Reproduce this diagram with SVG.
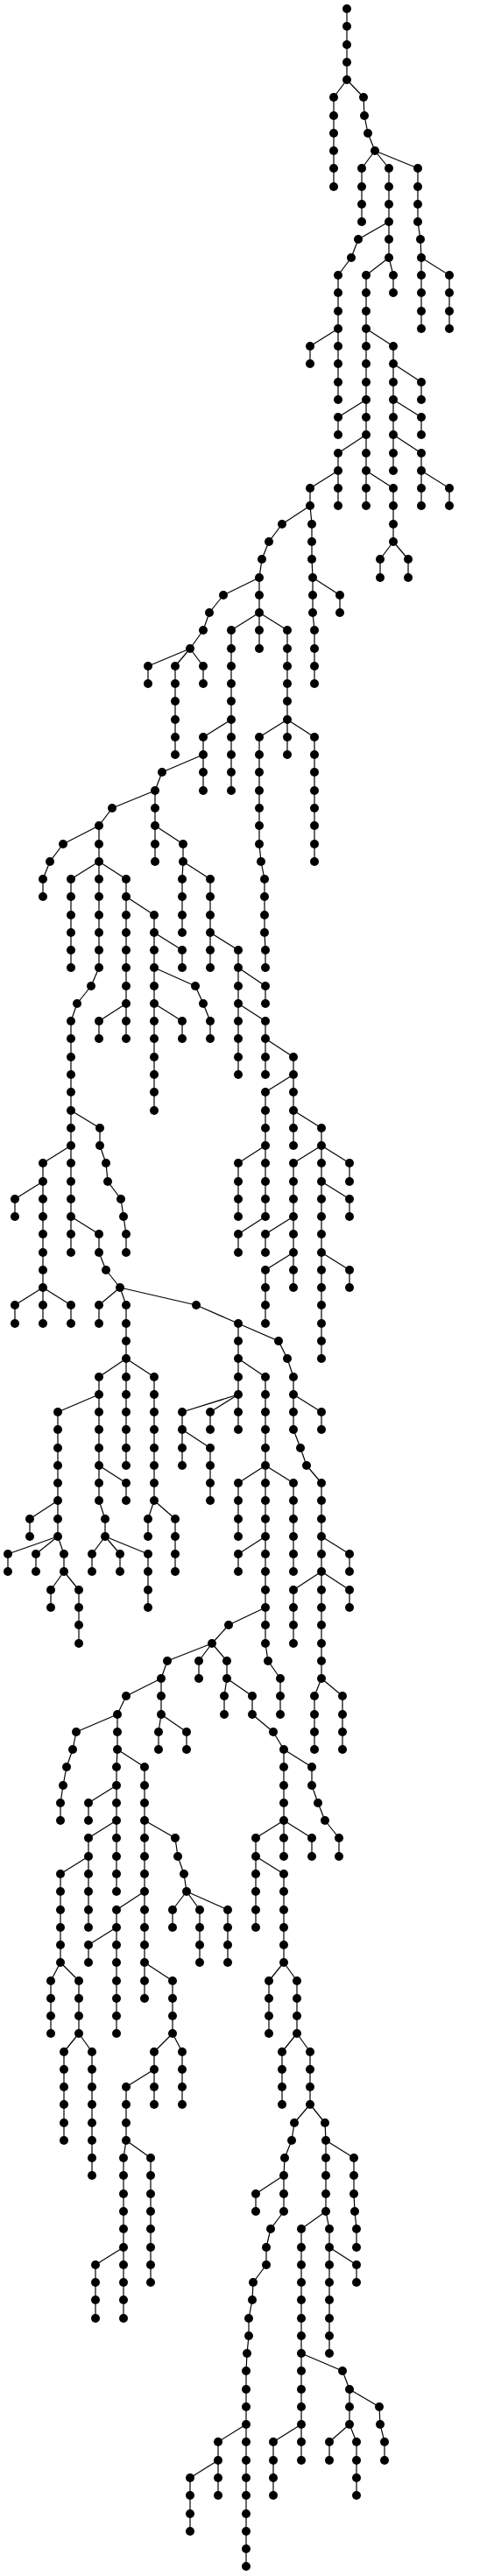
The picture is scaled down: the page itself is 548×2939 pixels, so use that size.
<svg xmlns="http://www.w3.org/2000/svg" width="548" height="2939" viewBox="0 0 548 2939">
<style>#edges path{fill:none;stroke:#000;stroke-width:1.2}#nodes circle{r:5px;fill:#000}</style>
<rect width="548" height="2939" fill="#fff"/>
<g id="edges">
<path d="M396 10V30"/><path d="M396 30V51"/><path d="M396 51V71"/><path d="M396 71V91"/>
<path d="M396 91L381 111"/><path d="M396 91L415 111"/>
<path d="M381 111V132"/><path d="M415 111L416 132"/>
<path d="M381 132V152"/><path d="M416 132L420 152"/>
<path d="M381 152V172"/><path d="M420 152L428 172"/>
<path d="M381 172V192"/><path d="M428 172L413 192"/><path d="M428 172L444 192"/><path d="M428 172L477 192"/>
<path d="M381 192V213"/><path d="M413 192V213"/><path d="M444 192V213"/><path d="M477 192V213"/>
<path d="M413 213V233"/><path d="M444 213V233"/><path d="M477 213V233"/>
<path d="M413 233V253"/><path d="M444 233V253"/><path d="M477 233V253"/>
<path d="M444 253L409 273"/><path d="M444 253V273"/><path d="M477 253L480 273"/>
<path d="M409 273L401 294"/><path d="M444 273V294"/><path d="M480 273L481 294"/>
<path d="M401 294L386 314"/><path d="M444 294L418 314"/><path d="M444 294L449 314"/><path d="M481 294V314"/><path d="M481 294L513 314"/>
<path d="M386 314V334"/><path d="M418 314V334"/><path d="M449 314V334"/><path d="M481 314V334"/><path d="M513 314V334"/>
<path d="M386 334V355"/><path d="M418 334V355"/><path d="M481 334V355"/><path d="M513 334V355"/>
<path d="M386 355V375"/><path d="M418 355V375"/><path d="M481 355V375"/><path d="M513 355V375"/>
<path d="M386 375L354 395"/><path d="M386 375V395"/><path d="M418 375V395"/><path d="M418 375L449 395"/>
<path d="M354 395V415"/><path d="M386 395V415"/><path d="M418 395V415"/><path d="M449 395V415"/>
<path d="M386 415V436"/><path d="M418 415V436"/><path d="M449 415V436"/><path d="M449 415L481 436"/>
<path d="M386 436V456"/><path d="M418 436V456"/><path d="M449 436V456"/><path d="M481 436V456"/>
<path d="M418 456L386 476"/><path d="M418 456V476"/><path d="M449 456V476"/><path d="M449 456L481 476"/>
<path d="M386 476V496"/><path d="M418 476V496"/><path d="M449 476V496"/><path d="M481 476V496"/>
<path d="M418 496L386 517"/><path d="M418 496V517"/><path d="M449 496V517"/><path d="M449 496L481 517"/>
<path d="M386 517V537"/><path d="M418 517V537"/><path d="M449 517V537"/><path d="M481 517V537"/>
<path d="M386 537L354 557"/><path d="M386 537V557"/><path d="M418 537V557"/><path d="M418 537L449 557"/><path d="M481 537V557"/><path d="M481 537L513 557"/>
<path d="M354 557V577"/><path d="M386 557V577"/><path d="M418 557V577"/><path d="M449 557V577"/><path d="M481 557V577"/><path d="M513 557V577"/>
<path d="M354 577L322 598"/><path d="M354 577L356 598"/><path d="M449 577V598"/>
<path d="M322 598L307 618"/><path d="M356 598V618"/><path d="M449 598V618"/>
<path d="M307 618L299 638"/><path d="M356 618V638"/><path d="M449 618L434 638"/><path d="M449 618L466 638"/>
<path d="M299 638L296 659"/><path d="M356 638L357 659"/><path d="M434 638V659"/><path d="M466 638V659"/>
<path d="M296 659L255 679"/><path d="M296 659V679"/><path d="M357 659V679"/><path d="M357 659L388 679"/>
<path d="M255 679L239 699"/><path d="M296 679V699"/><path d="M357 679V699"/><path d="M388 679V699"/>
<path d="M239 699L232 719"/><path d="M296 699L264 719"/><path d="M296 699V719"/><path d="M296 699L328 719"/><path d="M357 699L359 719"/>
<path d="M232 719L217 740"/><path d="M264 719V740"/><path d="M296 719V740"/><path d="M328 719V740"/><path d="M359 719V740"/>
<path d="M217 740L169 760"/><path d="M217 740L200 760"/><path d="M217 740L232 760"/><path d="M264 740V760"/><path d="M328 740V760"/><path d="M359 740V760"/>
<path d="M169 760V780"/><path d="M200 760V780"/><path d="M232 760V780"/><path d="M264 760V780"/><path d="M328 760V780"/><path d="M359 760V780"/>
<path d="M200 780V800"/><path d="M264 780V800"/><path d="M328 780V800"/>
<path d="M200 800V821"/><path d="M264 800V821"/><path d="M328 800V821"/>
<path d="M200 821V841"/><path d="M264 821L232 841"/><path d="M264 821V841"/><path d="M328 821L296 841"/><path d="M328 821V841"/><path d="M328 821L359 841"/>
<path d="M200 841V861"/><path d="M232 841V861"/><path d="M264 841V861"/><path d="M296 841V861"/><path d="M328 841V861"/><path d="M359 841V861"/>
<path d="M232 861L185 881"/><path d="M232 861V881"/><path d="M264 861V881"/><path d="M296 861V881"/><path d="M359 861V881"/>
<path d="M185 881L177 902"/><path d="M232 881V902"/><path d="M264 881V902"/><path d="M296 881V902"/><path d="M359 881V902"/>
<path d="M177 902L128 922"/><path d="M177 902V922"/><path d="M296 902V922"/><path d="M359 902V922"/>
<path d="M128 922L113 942"/><path d="M177 922V942"/><path d="M296 922V942"/><path d="M359 922V942"/>
<path d="M113 942L72 963"/><path d="M113 942V963"/><path d="M177 942V963"/><path d="M177 942L209 963"/><path d="M296 942V963"/><path d="M359 942V963"/>
<path d="M72 963L57 983"/><path d="M113 963V983"/><path d="M177 963V983"/><path d="M209 963V983"/><path d="M296 963L298 983"/><path d="M359 963V983"/>
<path d="M57 983L49 1003"/><path d="M113 983L81 1003"/><path d="M113 983V1003"/><path d="M113 983L144 1003"/><path d="M209 983L208 1003"/><path d="M209 983L240 1003"/><path d="M298 983L302 1003"/>
<path d="M49 1003V1023"/><path d="M81 1003V1023"/><path d="M113 1003V1023"/><path d="M144 1003V1023"/><path d="M208 1003V1023"/><path d="M240 1003V1023"/><path d="M302 1003V1023"/>
<path d="M81 1023V1044"/><path d="M113 1023V1044"/><path d="M144 1023V1044"/><path d="M144 1023L176 1044"/><path d="M208 1023V1044"/><path d="M240 1023V1044"/><path d="M302 1023V1044"/>
<path d="M81 1044V1064"/><path d="M113 1044V1064"/><path d="M144 1044V1064"/><path d="M176 1044V1064"/><path d="M208 1044V1064"/><path d="M240 1044V1064"/><path d="M302 1044V1064"/>
<path d="M81 1064V1084"/><path d="M113 1064V1084"/><path d="M144 1064V1084"/><path d="M176 1064V1084"/><path d="M176 1064L208 1084"/><path d="M240 1064V1084"/><path d="M240 1064L272 1084"/><path d="M302 1064L303 1084"/>
<path d="M81 1084V1104"/><path d="M113 1084V1104"/><path d="M144 1084V1104"/><path d="M176 1084V1104"/><path d="M208 1084V1104"/><path d="M240 1084V1104"/><path d="M272 1084V1104"/><path d="M303 1084V1104"/>
<path d="M113 1104L104 1125"/><path d="M144 1104V1125"/><path d="M176 1104V1125"/><path d="M176 1104L223 1125"/><path d="M272 1104V1125"/><path d="M272 1104L303 1125"/>
<path d="M104 1125L88 1145"/><path d="M144 1125V1145"/><path d="M176 1125V1145"/><path d="M223 1125L232 1145"/><path d="M272 1125V1145"/><path d="M303 1125V1145"/>
<path d="M88 1145L81 1165"/><path d="M144 1145L113 1165"/><path d="M144 1145V1165"/><path d="M176 1145V1165"/><path d="M176 1145L208 1165"/><path d="M232 1145L240 1165"/><path d="M272 1145V1165"/><path d="M272 1145L303 1165"/>
<path d="M81 1165V1185"/><path d="M113 1165V1185"/><path d="M144 1165V1185"/><path d="M176 1165V1185"/><path d="M208 1165V1185"/><path d="M240 1165V1185"/><path d="M272 1165V1185"/><path d="M303 1165V1185"/>
<path d="M81 1185V1206"/><path d="M176 1185V1206"/><path d="M272 1185V1206"/><path d="M303 1185V1206"/><path d="M303 1185L335 1206"/>
<path d="M81 1206V1226"/><path d="M176 1206V1226"/><path d="M272 1206V1226"/><path d="M303 1206V1226"/><path d="M335 1206V1226"/>
<path d="M81 1226V1246"/><path d="M176 1226V1246"/><path d="M335 1226L303 1246"/><path d="M335 1226V1246"/>
<path d="M81 1246V1267"/><path d="M176 1246V1267"/><path d="M303 1246V1267"/><path d="M335 1246V1267"/>
<path d="M81 1267V1287"/><path d="M81 1267L114 1287"/><path d="M303 1267V1287"/><path d="M335 1267V1287"/><path d="M335 1267L367 1287"/>
<path d="M81 1287V1307"/><path d="M114 1287V1307"/><path d="M303 1287V1307"/><path d="M335 1287V1307"/><path d="M367 1287V1307"/>
<path d="M81 1307L49 1327"/><path d="M81 1307V1327"/><path d="M114 1307L121 1327"/><path d="M303 1307L272 1327"/><path d="M303 1307V1327"/><path d="M367 1307L335 1327"/><path d="M367 1307V1327"/><path d="M367 1307L399 1327"/>
<path d="M49 1327V1348"/><path d="M81 1327V1348"/><path d="M121 1327L123 1348"/><path d="M272 1327V1348"/><path d="M303 1327V1348"/><path d="M335 1327V1348"/><path d="M367 1327V1348"/><path d="M399 1327V1348"/>
<path d="M49 1348L17 1368"/><path d="M49 1348V1368"/><path d="M81 1348V1368"/><path d="M123 1348L138 1368"/><path d="M272 1348V1368"/><path d="M303 1348V1368"/><path d="M335 1348V1368"/><path d="M367 1348V1368"/><path d="M367 1348L399 1368"/>
<path d="M17 1368V1388"/><path d="M49 1368V1388"/><path d="M81 1368V1388"/><path d="M138 1368L141 1388"/><path d="M272 1368V1388"/><path d="M303 1368V1388"/><path d="M335 1368V1388"/><path d="M367 1368V1388"/><path d="M399 1368V1388"/>
<path d="M49 1388V1408"/><path d="M81 1388V1408"/><path d="M81 1388L113 1408"/><path d="M141 1388L144 1408"/><path d="M303 1388L272 1408"/><path d="M335 1388L303 1408"/><path d="M335 1388V1408"/><path d="M367 1388V1408"/>
<path d="M49 1408V1429"/><path d="M81 1408V1429"/><path d="M113 1408V1429"/><path d="M144 1408V1429"/><path d="M272 1408V1429"/><path d="M303 1408V1429"/><path d="M335 1408V1429"/><path d="M367 1408V1429"/>
<path d="M49 1429V1449"/><path d="M113 1429L121 1449"/><path d="M335 1429L303 1449"/><path d="M335 1429V1449"/><path d="M367 1429V1449"/><path d="M367 1429L399 1449"/>
<path d="M49 1449V1469"/><path d="M121 1449L137 1469"/><path d="M303 1449V1469"/><path d="M335 1449V1469"/><path d="M367 1449V1469"/><path d="M399 1449V1469"/>
<path d="M49 1469L17 1489"/><path d="M49 1469V1489"/><path d="M49 1469L81 1489"/><path d="M137 1469L113 1489"/><path d="M137 1469L144 1489"/><path d="M137 1469L224 1489"/><path d="M303 1469V1489"/><path d="M367 1469V1489"/>
<path d="M17 1489V1510"/><path d="M49 1489V1510"/><path d="M81 1489V1510"/><path d="M113 1489V1510"/><path d="M144 1489V1510"/><path d="M224 1489L272 1510"/><path d="M303 1489V1510"/><path d="M367 1489V1510"/>
<path d="M144 1510V1530"/><path d="M272 1510V1530"/><path d="M272 1510L318 1530"/><path d="M367 1510V1530"/>
<path d="M144 1530V1550"/><path d="M272 1530V1550"/><path d="M318 1530L328 1550"/><path d="M367 1530V1550"/>
<path d="M144 1550L113 1571"/><path d="M144 1550V1571"/><path d="M144 1550L176 1571"/><path d="M272 1550V1571"/><path d="M272 1550L303 1571"/><path d="M328 1550L335 1571"/>
<path d="M113 1571V1591"/><path d="M144 1571V1591"/><path d="M176 1571V1591"/><path d="M272 1571V1591"/><path d="M303 1571V1591"/><path d="M335 1571V1591"/>
<path d="M113 1591L66 1611"/><path d="M113 1591V1611"/><path d="M144 1591V1611"/><path d="M176 1591V1611"/><path d="M272 1591L208 1611"/><path d="M272 1591L240 1611"/><path d="M272 1591V1611"/><path d="M303 1591V1611"/><path d="M335 1591V1611"/><path d="M335 1591L367 1611"/>
<path d="M66 1611V1631"/><path d="M113 1611V1631"/><path d="M144 1611V1631"/><path d="M176 1611V1631"/><path d="M208 1611V1631"/><path d="M240 1611V1631"/><path d="M272 1611V1631"/><path d="M303 1611V1631"/><path d="M335 1611V1631"/><path d="M367 1611V1631"/>
<path d="M66 1631V1652"/><path d="M113 1631V1652"/><path d="M144 1631V1652"/><path d="M176 1631V1652"/><path d="M208 1631V1652"/><path d="M208 1631L240 1652"/><path d="M303 1631V1652"/><path d="M335 1631L343 1652"/>
<path d="M66 1652V1672"/><path d="M113 1652V1672"/><path d="M144 1652V1672"/><path d="M176 1652V1672"/><path d="M208 1652V1672"/><path d="M240 1652V1672"/><path d="M303 1652V1672"/><path d="M343 1652L350 1672"/>
<path d="M66 1672V1692"/><path d="M113 1672V1692"/><path d="M113 1672L144 1692"/><path d="M176 1672V1692"/><path d="M240 1672V1692"/><path d="M303 1672L272 1692"/><path d="M303 1672V1692"/><path d="M303 1672L335 1692"/><path d="M350 1672L367 1692"/>
<path d="M66 1692V1712"/><path d="M113 1692V1712"/><path d="M144 1692V1712"/><path d="M176 1692V1712"/><path d="M240 1692V1712"/><path d="M272 1692V1712"/><path d="M303 1692V1712"/><path d="M335 1692V1712"/><path d="M367 1692V1712"/>
<path d="M66 1712L34 1733"/><path d="M66 1712V1733"/><path d="M113 1712L120 1733"/><path d="M176 1712L169 1733"/><path d="M176 1712L200 1733"/><path d="M272 1712V1733"/><path d="M303 1712V1733"/><path d="M335 1712V1733"/><path d="M367 1712V1733"/>
<path d="M34 1733V1753"/><path d="M66 1733V1753"/><path d="M120 1733V1753"/><path d="M169 1733V1753"/><path d="M200 1733V1753"/><path d="M272 1733V1753"/><path d="M303 1733V1753"/><path d="M335 1733V1753"/><path d="M367 1733V1753"/>
<path d="M66 1753L9 1773"/><path d="M66 1753L41 1773"/><path d="M66 1753L73 1773"/><path d="M120 1753L105 1773"/><path d="M120 1753L137 1773"/><path d="M120 1753L169 1773"/><path d="M200 1753V1773"/><path d="M303 1753L272 1773"/><path d="M303 1753V1773"/><path d="M335 1753V1773"/><path d="M367 1753V1773"/><path d="M367 1753L399 1773"/>
<path d="M9 1773V1793"/><path d="M41 1773V1793"/><path d="M73 1773V1793"/><path d="M105 1773V1793"/><path d="M137 1773V1793"/><path d="M169 1773V1793"/><path d="M200 1773V1793"/><path d="M272 1773V1793"/><path d="M303 1773V1793"/><path d="M335 1773V1793"/><path d="M367 1773V1793"/><path d="M399 1773V1793"/>
<path d="M73 1793L58 1814"/><path d="M73 1793L90 1814"/><path d="M169 1793V1814"/><path d="M303 1793V1814"/><path d="M367 1793L335 1814"/><path d="M367 1793V1814"/><path d="M367 1793L399 1814"/>
<path d="M58 1814V1834"/><path d="M90 1814V1834"/><path d="M169 1814V1834"/><path d="M303 1814V1834"/><path d="M335 1814V1834"/><path d="M367 1814V1834"/><path d="M399 1814V1834"/>
<path d="M90 1834V1854"/><path d="M303 1834L261 1854"/><path d="M303 1834V1854"/><path d="M335 1834V1854"/><path d="M367 1834V1854"/>
<path d="M90 1854V1875"/><path d="M261 1854L242 1875"/><path d="M303 1854V1875"/><path d="M335 1854V1875"/><path d="M367 1854V1875"/>
<path d="M242 1875L191 1895"/><path d="M242 1875L227 1895"/><path d="M242 1875L259 1895"/><path d="M303 1875L306 1895"/><path d="M367 1875V1895"/>
<path d="M191 1895L184 1915"/><path d="M227 1895V1915"/><path d="M259 1895V1915"/><path d="M306 1895L320 1915"/><path d="M367 1895V1915"/>
<path d="M184 1915L144 1935"/><path d="M184 1915V1935"/><path d="M259 1915L256 1935"/><path d="M259 1915L288 1935"/><path d="M320 1915V1935"/><path d="M367 1915L359 1935"/><path d="M367 1915L391 1935"/>
<path d="M144 1935L134 1956"/><path d="M184 1935V1956"/><path d="M256 1935V1956"/><path d="M288 1935V1956"/><path d="M320 1935V1956"/><path d="M359 1935V1956"/><path d="M391 1935V1956"/>
<path d="M134 1956L87 1976"/><path d="M134 1956V1976"/><path d="M184 1956L181 1976"/><path d="M184 1956L213 1976"/><path d="M288 1956L312 1976"/><path d="M359 1956V1976"/><path d="M391 1956V1976"/>
<path d="M87 1976L83 1996"/><path d="M134 1976V1996"/><path d="M181 1976V1996"/><path d="M213 1976V1996"/><path d="M312 1976L324 1996"/><path d="M359 1976V1996"/><path d="M391 1976V1996"/>
<path d="M83 1996L76 2016"/><path d="M134 1996L133 2016"/><path d="M134 1996L165 2016"/><path d="M324 1996V2016"/><path d="M324 1996L356 2016"/>
<path d="M76 2016L72 2037"/><path d="M133 2016V2037"/><path d="M165 2016V2037"/><path d="M324 2016V2037"/><path d="M356 2016V2037"/>
<path d="M72 2037L69 2057"/><path d="M133 2037L101 2057"/><path d="M133 2037V2057"/><path d="M165 2037V2057"/><path d="M324 2037V2057"/><path d="M356 2037L363 2057"/>
<path d="M69 2057V2077"/><path d="M101 2057V2077"/><path d="M133 2057V2077"/><path d="M165 2057V2077"/><path d="M324 2057V2077"/><path d="M363 2057L371 2077"/>
<path d="M133 2077L101 2097"/><path d="M133 2077V2097"/><path d="M165 2077V2097"/><path d="M165 2077L200 2097"/><path d="M324 2077L292 2097"/><path d="M324 2077V2097"/><path d="M324 2077L356 2097"/><path d="M371 2077L387 2097"/>
<path d="M101 2097V2118"/><path d="M133 2097V2118"/><path d="M165 2097V2118"/><path d="M200 2097L203 2118"/><path d="M292 2097V2118"/><path d="M324 2097V2118"/><path d="M356 2097V2118"/><path d="M387 2097V2118"/>
<path d="M101 2118L69 2138"/><path d="M101 2118V2138"/><path d="M133 2118V2138"/><path d="M165 2118V2138"/><path d="M203 2118L210 2138"/><path d="M292 2118V2138"/><path d="M292 2118L324 2138"/>
<path d="M69 2138V2158"/><path d="M101 2138V2158"/><path d="M133 2138V2158"/><path d="M165 2138V2158"/><path d="M210 2138L213 2158"/><path d="M292 2138V2158"/><path d="M324 2138V2158"/>
<path d="M69 2158V2179"/><path d="M101 2158V2179"/><path d="M165 2158L133 2179"/><path d="M165 2158V2179"/><path d="M213 2158L197 2179"/><path d="M213 2158L228 2179"/><path d="M213 2158L260 2179"/><path d="M292 2158V2179"/><path d="M324 2158V2179"/>
<path d="M69 2179V2199"/><path d="M101 2179V2199"/><path d="M133 2179V2199"/><path d="M165 2179V2199"/><path d="M197 2179V2199"/><path d="M228 2179V2199"/><path d="M260 2179V2199"/><path d="M292 2179V2199"/><path d="M324 2179V2199"/>
<path d="M69 2199V2219"/><path d="M133 2199L101 2219"/><path d="M133 2199V2219"/><path d="M165 2199V2219"/><path d="M228 2199V2219"/><path d="M260 2199V2219"/><path d="M324 2199V2219"/>
<path d="M69 2219V2239"/><path d="M101 2219V2239"/><path d="M133 2219V2239"/><path d="M165 2219V2239"/><path d="M228 2219V2239"/><path d="M260 2219V2239"/><path d="M324 2219V2239"/>
<path d="M69 2239L58 2260"/><path d="M69 2239L90 2260"/><path d="M133 2239V2260"/><path d="M165 2239V2260"/><path d="M165 2239L197 2260"/><path d="M324 2239L307 2260"/><path d="M324 2239L339 2260"/>
<path d="M58 2260V2280"/><path d="M90 2260V2280"/><path d="M133 2260V2280"/><path d="M165 2260V2280"/><path d="M197 2260V2280"/><path d="M307 2260V2280"/><path d="M339 2260V2280"/>
<path d="M58 2280V2300"/><path d="M90 2280V2300"/><path d="M133 2280V2300"/><path d="M197 2280V2300"/><path d="M307 2280V2300"/><path d="M339 2280V2300"/>
<path d="M58 2300V2320"/><path d="M90 2300V2320"/><path d="M133 2300V2320"/><path d="M197 2300V2320"/><path d="M307 2300V2320"/><path d="M339 2300V2320"/>
<path d="M90 2320L73 2341"/><path d="M90 2320L105 2341"/><path d="M197 2320L176 2341"/><path d="M197 2320L208 2341"/><path d="M339 2320L322 2341"/><path d="M339 2320L354 2341"/>
<path d="M73 2341V2361"/><path d="M105 2341V2361"/><path d="M176 2341V2361"/><path d="M208 2341V2361"/><path d="M322 2341V2361"/><path d="M354 2341V2361"/>
<path d="M73 2361V2381"/><path d="M105 2361V2381"/><path d="M176 2361L144 2381"/><path d="M176 2361V2381"/><path d="M208 2361V2381"/><path d="M322 2361V2381"/><path d="M354 2361V2381"/>
<path d="M73 2381V2401"/><path d="M105 2381V2401"/><path d="M144 2381V2401"/><path d="M176 2381V2401"/><path d="M208 2381V2401"/><path d="M322 2381V2401"/><path d="M354 2381V2401"/>
<path d="M73 2401V2422"/><path d="M105 2401V2422"/><path d="M144 2401V2422"/><path d="M354 2401L336 2422"/><path d="M354 2401L371 2422"/>
<path d="M73 2422V2442"/><path d="M105 2422V2442"/><path d="M144 2422V2442"/><path d="M336 2422L333 2442"/><path d="M371 2422L372 2442"/>
<path d="M105 2442V2462"/><path d="M144 2442L141 2462"/><path d="M144 2442L172 2462"/><path d="M333 2442L325 2462"/><path d="M372 2442V2462"/><path d="M372 2442L404 2462"/>
<path d="M105 2462V2482"/><path d="M141 2462V2482"/><path d="M172 2462V2482"/><path d="M325 2462L324 2482"/><path d="M372 2462V2482"/><path d="M404 2462V2482"/>
<path d="M141 2482V2503"/><path d="M172 2482V2503"/><path d="M324 2482L292 2503"/><path d="M324 2482V2503"/><path d="M372 2482V2503"/><path d="M404 2482V2503"/>
<path d="M141 2503V2523"/><path d="M172 2503V2523"/><path d="M292 2503V2523"/><path d="M324 2503V2523"/><path d="M372 2503V2523"/><path d="M404 2503L405 2523"/>
<path d="M141 2523V2543"/><path d="M172 2523V2543"/><path d="M324 2523L309 2543"/><path d="M372 2523L344 2543"/><path d="M372 2523L376 2543"/><path d="M405 2523L407 2543"/>
<path d="M141 2543V2564"/><path d="M172 2543V2564"/><path d="M309 2543L304 2564"/><path d="M344 2543V2564"/><path d="M376 2543V2564"/><path d="M407 2543V2564"/>
<path d="M141 2564L109 2584"/><path d="M141 2564V2584"/><path d="M172 2564V2584"/><path d="M304 2564V2584"/><path d="M344 2564V2584"/><path d="M376 2564V2584"/><path d="M376 2564L407 2584"/>
<path d="M109 2584V2604"/><path d="M141 2584V2604"/><path d="M172 2584V2604"/><path d="M304 2584L289 2604"/><path d="M344 2584V2604"/><path d="M376 2584V2604"/><path d="M407 2584V2604"/>
<path d="M109 2604V2624"/><path d="M141 2604V2624"/><path d="M289 2604L288 2624"/><path d="M344 2604V2624"/><path d="M376 2604V2624"/>
<path d="M109 2624V2645"/><path d="M141 2624V2645"/><path d="M288 2624L284 2645"/><path d="M344 2624V2645"/><path d="M376 2624V2645"/>
<path d="M284 2645V2665"/><path d="M344 2645V2665"/><path d="M376 2645V2665"/>
<path d="M284 2665L282 2685"/><path d="M344 2665V2685"/><path d="M376 2665V2685"/>
<path d="M282 2685L281 2705"/><path d="M344 2685V2705"/><path d="M344 2685L391 2705"/>
<path d="M281 2705V2726"/><path d="M344 2705V2726"/><path d="M391 2705L399 2726"/>
<path d="M281 2726V2746"/><path d="M344 2726V2746"/><path d="M399 2726V2746"/><path d="M399 2726L433 2746"/>
<path d="M281 2746V2766"/><path d="M344 2746V2766"/><path d="M399 2746V2766"/><path d="M433 2746L434 2766"/>
<path d="M281 2766L249 2786"/><path d="M281 2766V2786"/><path d="M344 2766L312 2786"/><path d="M344 2766V2786"/><path d="M399 2766L376 2786"/><path d="M399 2766L407 2786"/><path d="M434 2766L439 2786"/>
<path d="M249 2786V2807"/><path d="M281 2786V2807"/><path d="M312 2786V2807"/><path d="M344 2786V2807"/><path d="M376 2786V2807"/><path d="M407 2786V2807"/><path d="M439 2786V2807"/>
<path d="M249 2807L217 2827"/><path d="M249 2807V2827"/><path d="M281 2807V2827"/><path d="M312 2807V2827"/><path d="M407 2807V2827"/>
<path d="M217 2827V2847"/><path d="M249 2827V2847"/><path d="M281 2827V2847"/><path d="M312 2827V2847"/><path d="M407 2827V2847"/>
<path d="M217 2847V2868"/><path d="M281 2847V2868"/>
<path d="M217 2868V2888"/><path d="M281 2868V2888"/>
<path d="M281 2888V2908"/>
<path d="M281 2908V2928"/>
</g>
<g id="nodes">
<g id="n0_396"><circle cx="396" cy="10"/></g>
<g id="n1_396"><circle cx="396" cy="30"/></g>
<g id="n2_396"><circle cx="396" cy="51"/></g>
<g id="n3_396"><circle cx="396" cy="71"/></g>
<g id="n4_396"><circle cx="396" cy="91"/></g>
<g id="n5_381"><circle cx="381" cy="111"/></g><g id="n5_415"><circle cx="415" cy="111"/></g>
<g id="n6_381"><circle cx="381" cy="132"/></g><g id="n6_416"><circle cx="416" cy="132"/></g>
<g id="n7_381"><circle cx="381" cy="152"/></g><g id="n7_420"><circle cx="420" cy="152"/></g>
<g id="n8_381"><circle cx="381" cy="172"/></g><g id="n8_428"><circle cx="428" cy="172"/></g>
<g id="n9_381"><circle cx="381" cy="192"/></g><g id="n9_413"><circle cx="413" cy="192"/></g><g id="n9_444"><circle cx="444" cy="192"/></g><g id="n9_477"><circle cx="477" cy="192"/></g>
<g id="n10_381"><circle cx="381" cy="213"/></g><g id="n10_413"><circle cx="413" cy="213"/></g><g id="n10_444"><circle cx="444" cy="213"/></g><g id="n10_477"><circle cx="477" cy="213"/></g>
<g id="n11_413"><circle cx="413" cy="233"/></g><g id="n11_444"><circle cx="444" cy="233"/></g><g id="n11_477"><circle cx="477" cy="233"/></g>
<g id="n12_413"><circle cx="413" cy="253"/></g><g id="n12_444"><circle cx="444" cy="253"/></g><g id="n12_477"><circle cx="477" cy="253"/></g>
<g id="n13_409"><circle cx="409" cy="273"/></g><g id="n13_444"><circle cx="444" cy="273"/></g><g id="n13_480"><circle cx="480" cy="273"/></g>
<g id="n14_401"><circle cx="401" cy="294"/></g><g id="n14_444"><circle cx="444" cy="294"/></g><g id="n14_481"><circle cx="481" cy="294"/></g>
<g id="n15_386"><circle cx="386" cy="314"/></g><g id="n15_418"><circle cx="418" cy="314"/></g><g id="n15_449"><circle cx="449" cy="314"/></g><g id="n15_481"><circle cx="481" cy="314"/></g><g id="n15_513"><circle cx="513" cy="314"/></g>
<g id="n16_386"><circle cx="386" cy="334"/></g><g id="n16_418"><circle cx="418" cy="334"/></g><g id="n16_449"><circle cx="449" cy="334"/></g><g id="n16_481"><circle cx="481" cy="334"/></g><g id="n16_513"><circle cx="513" cy="334"/></g>
<g id="n17_386"><circle cx="386" cy="355"/></g><g id="n17_418"><circle cx="418" cy="355"/></g><g id="n17_481"><circle cx="481" cy="355"/></g><g id="n17_513"><circle cx="513" cy="355"/></g>
<g id="n18_386"><circle cx="386" cy="375"/></g><g id="n18_418"><circle cx="418" cy="375"/></g><g id="n18_481"><circle cx="481" cy="375"/></g><g id="n18_513"><circle cx="513" cy="375"/></g>
<g id="n19_354"><circle cx="354" cy="395"/></g><g id="n19_386"><circle cx="386" cy="395"/></g><g id="n19_418"><circle cx="418" cy="395"/></g><g id="n19_449"><circle cx="449" cy="395"/></g>
<g id="n20_354"><circle cx="354" cy="415"/></g><g id="n20_386"><circle cx="386" cy="415"/></g><g id="n20_418"><circle cx="418" cy="415"/></g><g id="n20_449"><circle cx="449" cy="415"/></g>
<g id="n21_386"><circle cx="386" cy="436"/></g><g id="n21_418"><circle cx="418" cy="436"/></g><g id="n21_449"><circle cx="449" cy="436"/></g><g id="n21_481"><circle cx="481" cy="436"/></g>
<g id="n22_386"><circle cx="386" cy="456"/></g><g id="n22_418"><circle cx="418" cy="456"/></g><g id="n22_449"><circle cx="449" cy="456"/></g><g id="n22_481"><circle cx="481" cy="456"/></g>
<g id="n23_386"><circle cx="386" cy="476"/></g><g id="n23_418"><circle cx="418" cy="476"/></g><g id="n23_449"><circle cx="449" cy="476"/></g><g id="n23_481"><circle cx="481" cy="476"/></g>
<g id="n24_386"><circle cx="386" cy="496"/></g><g id="n24_418"><circle cx="418" cy="496"/></g><g id="n24_449"><circle cx="449" cy="496"/></g><g id="n24_481"><circle cx="481" cy="496"/></g>
<g id="n25_386"><circle cx="386" cy="517"/></g><g id="n25_418"><circle cx="418" cy="517"/></g><g id="n25_449"><circle cx="449" cy="517"/></g><g id="n25_481"><circle cx="481" cy="517"/></g>
<g id="n26_386"><circle cx="386" cy="537"/></g><g id="n26_418"><circle cx="418" cy="537"/></g><g id="n26_449"><circle cx="449" cy="537"/></g><g id="n26_481"><circle cx="481" cy="537"/></g>
<g id="n27_354"><circle cx="354" cy="557"/></g><g id="n27_386"><circle cx="386" cy="557"/></g><g id="n27_418"><circle cx="418" cy="557"/></g><g id="n27_449"><circle cx="449" cy="557"/></g><g id="n27_481"><circle cx="481" cy="557"/></g><g id="n27_513"><circle cx="513" cy="557"/></g>
<g id="n28_354"><circle cx="354" cy="577"/></g><g id="n28_386"><circle cx="386" cy="577"/></g><g id="n28_418"><circle cx="418" cy="577"/></g><g id="n28_449"><circle cx="449" cy="577"/></g><g id="n28_481"><circle cx="481" cy="577"/></g><g id="n28_513"><circle cx="513" cy="577"/></g>
<g id="n29_322"><circle cx="322" cy="598"/></g><g id="n29_356"><circle cx="356" cy="598"/></g><g id="n29_449"><circle cx="449" cy="598"/></g>
<g id="n30_307"><circle cx="307" cy="618"/></g><g id="n30_356"><circle cx="356" cy="618"/></g><g id="n30_449"><circle cx="449" cy="618"/></g>
<g id="n31_299"><circle cx="299" cy="638"/></g><g id="n31_356"><circle cx="356" cy="638"/></g><g id="n31_434"><circle cx="434" cy="638"/></g><g id="n31_466"><circle cx="466" cy="638"/></g>
<g id="n32_296"><circle cx="296" cy="659"/></g><g id="n32_357"><circle cx="357" cy="659"/></g><g id="n32_434"><circle cx="434" cy="659"/></g><g id="n32_466"><circle cx="466" cy="659"/></g>
<g id="n33_255"><circle cx="255" cy="679"/></g><g id="n33_296"><circle cx="296" cy="679"/></g><g id="n33_357"><circle cx="357" cy="679"/></g><g id="n33_388"><circle cx="388" cy="679"/></g>
<g id="n34_239"><circle cx="239" cy="699"/></g><g id="n34_296"><circle cx="296" cy="699"/></g><g id="n34_357"><circle cx="357" cy="699"/></g><g id="n34_388"><circle cx="388" cy="699"/></g>
<g id="n35_232"><circle cx="232" cy="719"/></g><g id="n35_264"><circle cx="264" cy="719"/></g><g id="n35_296"><circle cx="296" cy="719"/></g><g id="n35_328"><circle cx="328" cy="719"/></g><g id="n35_359"><circle cx="359" cy="719"/></g>
<g id="n36_217"><circle cx="217" cy="740"/></g><g id="n36_264"><circle cx="264" cy="740"/></g><g id="n36_296"><circle cx="296" cy="740"/></g><g id="n36_328"><circle cx="328" cy="740"/></g><g id="n36_359"><circle cx="359" cy="740"/></g>
<g id="n37_169"><circle cx="169" cy="760"/></g><g id="n37_200"><circle cx="200" cy="760"/></g><g id="n37_232"><circle cx="232" cy="760"/></g><g id="n37_264"><circle cx="264" cy="760"/></g><g id="n37_328"><circle cx="328" cy="760"/></g><g id="n37_359"><circle cx="359" cy="760"/></g>
<g id="n38_169"><circle cx="169" cy="780"/></g><g id="n38_200"><circle cx="200" cy="780"/></g><g id="n38_232"><circle cx="232" cy="780"/></g><g id="n38_264"><circle cx="264" cy="780"/></g><g id="n38_328"><circle cx="328" cy="780"/></g><g id="n38_359"><circle cx="359" cy="780"/></g>
<g id="n39_200"><circle cx="200" cy="800"/></g><g id="n39_264"><circle cx="264" cy="800"/></g><g id="n39_328"><circle cx="328" cy="800"/></g>
<g id="n40_200"><circle cx="200" cy="821"/></g><g id="n40_264"><circle cx="264" cy="821"/></g><g id="n40_328"><circle cx="328" cy="821"/></g>
<g id="n41_200"><circle cx="200" cy="841"/></g><g id="n41_232"><circle cx="232" cy="841"/></g><g id="n41_264"><circle cx="264" cy="841"/></g><g id="n41_296"><circle cx="296" cy="841"/></g><g id="n41_328"><circle cx="328" cy="841"/></g><g id="n41_359"><circle cx="359" cy="841"/></g>
<g id="n42_200"><circle cx="200" cy="861"/></g><g id="n42_232"><circle cx="232" cy="861"/></g><g id="n42_264"><circle cx="264" cy="861"/></g><g id="n42_296"><circle cx="296" cy="861"/></g><g id="n42_328"><circle cx="328" cy="861"/></g><g id="n42_359"><circle cx="359" cy="861"/></g>
<g id="n43_185"><circle cx="185" cy="881"/></g><g id="n43_232"><circle cx="232" cy="881"/></g><g id="n43_264"><circle cx="264" cy="881"/></g><g id="n43_296"><circle cx="296" cy="881"/></g><g id="n43_359"><circle cx="359" cy="881"/></g>
<g id="n44_177"><circle cx="177" cy="902"/></g><g id="n44_232"><circle cx="232" cy="902"/></g><g id="n44_264"><circle cx="264" cy="902"/></g><g id="n44_296"><circle cx="296" cy="902"/></g><g id="n44_359"><circle cx="359" cy="902"/></g>
<g id="n45_128"><circle cx="128" cy="922"/></g><g id="n45_177"><circle cx="177" cy="922"/></g><g id="n45_296"><circle cx="296" cy="922"/></g><g id="n45_359"><circle cx="359" cy="922"/></g>
<g id="n46_113"><circle cx="113" cy="942"/></g><g id="n46_177"><circle cx="177" cy="942"/></g><g id="n46_296"><circle cx="296" cy="942"/></g><g id="n46_359"><circle cx="359" cy="942"/></g>
<g id="n47_72"><circle cx="72" cy="963"/></g><g id="n47_113"><circle cx="113" cy="963"/></g><g id="n47_177"><circle cx="177" cy="963"/></g><g id="n47_209"><circle cx="209" cy="963"/></g><g id="n47_296"><circle cx="296" cy="963"/></g><g id="n47_359"><circle cx="359" cy="963"/></g>
<g id="n48_57"><circle cx="57" cy="983"/></g><g id="n48_113"><circle cx="113" cy="983"/></g><g id="n48_177"><circle cx="177" cy="983"/></g><g id="n48_209"><circle cx="209" cy="983"/></g><g id="n48_298"><circle cx="298" cy="983"/></g><g id="n48_359"><circle cx="359" cy="983"/></g>
<g id="n49_49"><circle cx="49" cy="1003"/></g><g id="n49_81"><circle cx="81" cy="1003"/></g><g id="n49_113"><circle cx="113" cy="1003"/></g><g id="n49_144"><circle cx="144" cy="1003"/></g><g id="n49_208"><circle cx="208" cy="1003"/></g><g id="n49_240"><circle cx="240" cy="1003"/></g><g id="n49_302"><circle cx="302" cy="1003"/></g>
<g id="n50_49"><circle cx="49" cy="1023"/></g><g id="n50_81"><circle cx="81" cy="1023"/></g><g id="n50_113"><circle cx="113" cy="1023"/></g><g id="n50_144"><circle cx="144" cy="1023"/></g><g id="n50_208"><circle cx="208" cy="1023"/></g><g id="n50_240"><circle cx="240" cy="1023"/></g><g id="n50_302"><circle cx="302" cy="1023"/></g>
<g id="n51_81"><circle cx="81" cy="1044"/></g><g id="n51_113"><circle cx="113" cy="1044"/></g><g id="n51_144"><circle cx="144" cy="1044"/></g><g id="n51_176"><circle cx="176" cy="1044"/></g><g id="n51_208"><circle cx="208" cy="1044"/></g><g id="n51_240"><circle cx="240" cy="1044"/></g><g id="n51_302"><circle cx="302" cy="1044"/></g>
<g id="n52_81"><circle cx="81" cy="1064"/></g><g id="n52_113"><circle cx="113" cy="1064"/></g><g id="n52_144"><circle cx="144" cy="1064"/></g><g id="n52_176"><circle cx="176" cy="1064"/></g><g id="n52_208"><circle cx="208" cy="1064"/></g><g id="n52_240"><circle cx="240" cy="1064"/></g><g id="n52_302"><circle cx="302" cy="1064"/></g>
<g id="n53_81"><circle cx="81" cy="1084"/></g><g id="n53_113"><circle cx="113" cy="1084"/></g><g id="n53_144"><circle cx="144" cy="1084"/></g><g id="n53_176"><circle cx="176" cy="1084"/></g><g id="n53_208"><circle cx="208" cy="1084"/></g><g id="n53_240"><circle cx="240" cy="1084"/></g><g id="n53_272"><circle cx="272" cy="1084"/></g><g id="n53_303"><circle cx="303" cy="1084"/></g>
<g id="n54_81"><circle cx="81" cy="1104"/></g><g id="n54_113"><circle cx="113" cy="1104"/></g><g id="n54_144"><circle cx="144" cy="1104"/></g><g id="n54_176"><circle cx="176" cy="1104"/></g><g id="n54_208"><circle cx="208" cy="1104"/></g><g id="n54_240"><circle cx="240" cy="1104"/></g><g id="n54_272"><circle cx="272" cy="1104"/></g><g id="n54_303"><circle cx="303" cy="1104"/></g>
<g id="n55_104"><circle cx="104" cy="1125"/></g><g id="n55_144"><circle cx="144" cy="1125"/></g><g id="n55_176"><circle cx="176" cy="1125"/></g><g id="n55_223"><circle cx="223" cy="1125"/></g><g id="n55_272"><circle cx="272" cy="1125"/></g><g id="n55_303"><circle cx="303" cy="1125"/></g>
<g id="n56_88"><circle cx="88" cy="1145"/></g><g id="n56_144"><circle cx="144" cy="1145"/></g><g id="n56_176"><circle cx="176" cy="1145"/></g><g id="n56_232"><circle cx="232" cy="1145"/></g><g id="n56_272"><circle cx="272" cy="1145"/></g><g id="n56_303"><circle cx="303" cy="1145"/></g>
<g id="n57_81"><circle cx="81" cy="1165"/></g><g id="n57_113"><circle cx="113" cy="1165"/></g><g id="n57_144"><circle cx="144" cy="1165"/></g><g id="n57_176"><circle cx="176" cy="1165"/></g><g id="n57_208"><circle cx="208" cy="1165"/></g><g id="n57_240"><circle cx="240" cy="1165"/></g><g id="n57_272"><circle cx="272" cy="1165"/></g><g id="n57_303"><circle cx="303" cy="1165"/></g>
<g id="n58_81"><circle cx="81" cy="1185"/></g><g id="n58_113"><circle cx="113" cy="1185"/></g><g id="n58_144"><circle cx="144" cy="1185"/></g><g id="n58_176"><circle cx="176" cy="1185"/></g><g id="n58_208"><circle cx="208" cy="1185"/></g><g id="n58_240"><circle cx="240" cy="1185"/></g><g id="n58_272"><circle cx="272" cy="1185"/></g><g id="n58_303"><circle cx="303" cy="1185"/></g>
<g id="n59_81"><circle cx="81" cy="1206"/></g><g id="n59_176"><circle cx="176" cy="1206"/></g><g id="n59_272"><circle cx="272" cy="1206"/></g><g id="n59_303"><circle cx="303" cy="1206"/></g><g id="n59_335"><circle cx="335" cy="1206"/></g>
<g id="n60_81"><circle cx="81" cy="1226"/></g><g id="n60_176"><circle cx="176" cy="1226"/></g><g id="n60_272"><circle cx="272" cy="1226"/></g><g id="n60_303"><circle cx="303" cy="1226"/></g><g id="n60_335"><circle cx="335" cy="1226"/></g>
<g id="n61_81"><circle cx="81" cy="1246"/></g><g id="n61_176"><circle cx="176" cy="1246"/></g><g id="n61_303"><circle cx="303" cy="1246"/></g><g id="n61_335"><circle cx="335" cy="1246"/></g>
<g id="n62_81"><circle cx="81" cy="1267"/></g><g id="n62_176"><circle cx="176" cy="1267"/></g><g id="n62_303"><circle cx="303" cy="1267"/></g><g id="n62_335"><circle cx="335" cy="1267"/></g>
<g id="n63_81"><circle cx="81" cy="1287"/></g><g id="n63_114"><circle cx="114" cy="1287"/></g><g id="n63_303"><circle cx="303" cy="1287"/></g><g id="n63_335"><circle cx="335" cy="1287"/></g><g id="n63_367"><circle cx="367" cy="1287"/></g>
<g id="n64_81"><circle cx="81" cy="1307"/></g><g id="n64_114"><circle cx="114" cy="1307"/></g><g id="n64_303"><circle cx="303" cy="1307"/></g><g id="n64_335"><circle cx="335" cy="1307"/></g><g id="n64_367"><circle cx="367" cy="1307"/></g>
<g id="n65_49"><circle cx="49" cy="1327"/></g><g id="n65_81"><circle cx="81" cy="1327"/></g><g id="n65_121"><circle cx="121" cy="1327"/></g><g id="n65_272"><circle cx="272" cy="1327"/></g><g id="n65_303"><circle cx="303" cy="1327"/></g><g id="n65_335"><circle cx="335" cy="1327"/></g><g id="n65_367"><circle cx="367" cy="1327"/></g><g id="n65_399"><circle cx="399" cy="1327"/></g>
<g id="n66_49"><circle cx="49" cy="1348"/></g><g id="n66_81"><circle cx="81" cy="1348"/></g><g id="n66_123"><circle cx="123" cy="1348"/></g><g id="n66_272"><circle cx="272" cy="1348"/></g><g id="n66_303"><circle cx="303" cy="1348"/></g><g id="n66_335"><circle cx="335" cy="1348"/></g><g id="n66_367"><circle cx="367" cy="1348"/></g><g id="n66_399"><circle cx="399" cy="1348"/></g>
<g id="n67_17"><circle cx="17" cy="1368"/></g><g id="n67_49"><circle cx="49" cy="1368"/></g><g id="n67_81"><circle cx="81" cy="1368"/></g><g id="n67_138"><circle cx="138" cy="1368"/></g><g id="n67_272"><circle cx="272" cy="1368"/></g><g id="n67_303"><circle cx="303" cy="1368"/></g><g id="n67_335"><circle cx="335" cy="1368"/></g><g id="n67_367"><circle cx="367" cy="1368"/></g><g id="n67_399"><circle cx="399" cy="1368"/></g>
<g id="n68_17"><circle cx="17" cy="1388"/></g><g id="n68_49"><circle cx="49" cy="1388"/></g><g id="n68_81"><circle cx="81" cy="1388"/></g><g id="n68_141"><circle cx="141" cy="1388"/></g><g id="n68_272"><circle cx="272" cy="1388"/></g><g id="n68_303"><circle cx="303" cy="1388"/></g><g id="n68_335"><circle cx="335" cy="1388"/></g><g id="n68_367"><circle cx="367" cy="1388"/></g><g id="n68_399"><circle cx="399" cy="1388"/></g>
<g id="n69_49"><circle cx="49" cy="1408"/></g><g id="n69_81"><circle cx="81" cy="1408"/></g><g id="n69_113"><circle cx="113" cy="1408"/></g><g id="n69_144"><circle cx="144" cy="1408"/></g><g id="n69_272"><circle cx="272" cy="1408"/></g><g id="n69_303"><circle cx="303" cy="1408"/></g><g id="n69_335"><circle cx="335" cy="1408"/></g><g id="n69_367"><circle cx="367" cy="1408"/></g>
<g id="n70_49"><circle cx="49" cy="1429"/></g><g id="n70_81"><circle cx="81" cy="1429"/></g><g id="n70_113"><circle cx="113" cy="1429"/></g><g id="n70_144"><circle cx="144" cy="1429"/></g><g id="n70_272"><circle cx="272" cy="1429"/></g><g id="n70_303"><circle cx="303" cy="1429"/></g><g id="n70_335"><circle cx="335" cy="1429"/></g><g id="n70_367"><circle cx="367" cy="1429"/></g>
<g id="n71_49"><circle cx="49" cy="1449"/></g><g id="n71_121"><circle cx="121" cy="1449"/></g><g id="n71_303"><circle cx="303" cy="1449"/></g><g id="n71_335"><circle cx="335" cy="1449"/></g><g id="n71_367"><circle cx="367" cy="1449"/></g><g id="n71_399"><circle cx="399" cy="1449"/></g>
<g id="n72_49"><circle cx="49" cy="1469"/></g><g id="n72_137"><circle cx="137" cy="1469"/></g><g id="n72_303"><circle cx="303" cy="1469"/></g><g id="n72_335"><circle cx="335" cy="1469"/></g><g id="n72_367"><circle cx="367" cy="1469"/></g><g id="n72_399"><circle cx="399" cy="1469"/></g>
<g id="n73_17"><circle cx="17" cy="1489"/></g><g id="n73_49"><circle cx="49" cy="1489"/></g><g id="n73_81"><circle cx="81" cy="1489"/></g><g id="n73_113"><circle cx="113" cy="1489"/></g><g id="n73_144"><circle cx="144" cy="1489"/></g><g id="n73_224"><circle cx="224" cy="1489"/></g><g id="n73_303"><circle cx="303" cy="1489"/></g><g id="n73_367"><circle cx="367" cy="1489"/></g>
<g id="n74_17"><circle cx="17" cy="1510"/></g><g id="n74_49"><circle cx="49" cy="1510"/></g><g id="n74_81"><circle cx="81" cy="1510"/></g><g id="n74_113"><circle cx="113" cy="1510"/></g><g id="n74_144"><circle cx="144" cy="1510"/></g><g id="n74_272"><circle cx="272" cy="1510"/></g><g id="n74_303"><circle cx="303" cy="1510"/></g><g id="n74_367"><circle cx="367" cy="1510"/></g>
<g id="n75_144"><circle cx="144" cy="1530"/></g><g id="n75_272"><circle cx="272" cy="1530"/></g><g id="n75_318"><circle cx="318" cy="1530"/></g><g id="n75_367"><circle cx="367" cy="1530"/></g>
<g id="n76_144"><circle cx="144" cy="1550"/></g><g id="n76_272"><circle cx="272" cy="1550"/></g><g id="n76_328"><circle cx="328" cy="1550"/></g><g id="n76_367"><circle cx="367" cy="1550"/></g>
<g id="n77_113"><circle cx="113" cy="1571"/></g><g id="n77_144"><circle cx="144" cy="1571"/></g><g id="n77_176"><circle cx="176" cy="1571"/></g><g id="n77_272"><circle cx="272" cy="1571"/></g><g id="n77_303"><circle cx="303" cy="1571"/></g><g id="n77_335"><circle cx="335" cy="1571"/></g>
<g id="n78_113"><circle cx="113" cy="1591"/></g><g id="n78_144"><circle cx="144" cy="1591"/></g><g id="n78_176"><circle cx="176" cy="1591"/></g><g id="n78_272"><circle cx="272" cy="1591"/></g><g id="n78_303"><circle cx="303" cy="1591"/></g><g id="n78_335"><circle cx="335" cy="1591"/></g>
<g id="n79_66"><circle cx="66" cy="1611"/></g><g id="n79_113"><circle cx="113" cy="1611"/></g><g id="n79_144"><circle cx="144" cy="1611"/></g><g id="n79_176"><circle cx="176" cy="1611"/></g><g id="n79_208"><circle cx="208" cy="1611"/></g><g id="n79_240"><circle cx="240" cy="1611"/></g><g id="n79_272"><circle cx="272" cy="1611"/></g><g id="n79_303"><circle cx="303" cy="1611"/></g><g id="n79_335"><circle cx="335" cy="1611"/></g><g id="n79_367"><circle cx="367" cy="1611"/></g>
<g id="n80_66"><circle cx="66" cy="1631"/></g><g id="n80_113"><circle cx="113" cy="1631"/></g><g id="n80_144"><circle cx="144" cy="1631"/></g><g id="n80_176"><circle cx="176" cy="1631"/></g><g id="n80_208"><circle cx="208" cy="1631"/></g><g id="n80_240"><circle cx="240" cy="1631"/></g><g id="n80_272"><circle cx="272" cy="1631"/></g><g id="n80_303"><circle cx="303" cy="1631"/></g><g id="n80_335"><circle cx="335" cy="1631"/></g><g id="n80_367"><circle cx="367" cy="1631"/></g>
<g id="n81_66"><circle cx="66" cy="1652"/></g><g id="n81_113"><circle cx="113" cy="1652"/></g><g id="n81_144"><circle cx="144" cy="1652"/></g><g id="n81_176"><circle cx="176" cy="1652"/></g><g id="n81_208"><circle cx="208" cy="1652"/></g><g id="n81_240"><circle cx="240" cy="1652"/></g><g id="n81_303"><circle cx="303" cy="1652"/></g><g id="n81_343"><circle cx="343" cy="1652"/></g>
<g id="n82_66"><circle cx="66" cy="1672"/></g><g id="n82_113"><circle cx="113" cy="1672"/></g><g id="n82_144"><circle cx="144" cy="1672"/></g><g id="n82_176"><circle cx="176" cy="1672"/></g><g id="n82_208"><circle cx="208" cy="1672"/></g><g id="n82_240"><circle cx="240" cy="1672"/></g><g id="n82_303"><circle cx="303" cy="1672"/></g><g id="n82_350"><circle cx="350" cy="1672"/></g>
<g id="n83_66"><circle cx="66" cy="1692"/></g><g id="n83_113"><circle cx="113" cy="1692"/></g><g id="n83_144"><circle cx="144" cy="1692"/></g><g id="n83_176"><circle cx="176" cy="1692"/></g><g id="n83_240"><circle cx="240" cy="1692"/></g><g id="n83_272"><circle cx="272" cy="1692"/></g><g id="n83_303"><circle cx="303" cy="1692"/></g><g id="n83_335"><circle cx="335" cy="1692"/></g><g id="n83_367"><circle cx="367" cy="1692"/></g>
<g id="n84_66"><circle cx="66" cy="1712"/></g><g id="n84_113"><circle cx="113" cy="1712"/></g><g id="n84_144"><circle cx="144" cy="1712"/></g><g id="n84_176"><circle cx="176" cy="1712"/></g><g id="n84_240"><circle cx="240" cy="1712"/></g><g id="n84_272"><circle cx="272" cy="1712"/></g><g id="n84_303"><circle cx="303" cy="1712"/></g><g id="n84_335"><circle cx="335" cy="1712"/></g><g id="n84_367"><circle cx="367" cy="1712"/></g>
<g id="n85_34"><circle cx="34" cy="1733"/></g><g id="n85_66"><circle cx="66" cy="1733"/></g><g id="n85_120"><circle cx="120" cy="1733"/></g><g id="n85_169"><circle cx="169" cy="1733"/></g><g id="n85_200"><circle cx="200" cy="1733"/></g><g id="n85_272"><circle cx="272" cy="1733"/></g><g id="n85_303"><circle cx="303" cy="1733"/></g><g id="n85_335"><circle cx="335" cy="1733"/></g><g id="n85_367"><circle cx="367" cy="1733"/></g>
<g id="n86_34"><circle cx="34" cy="1753"/></g><g id="n86_66"><circle cx="66" cy="1753"/></g><g id="n86_120"><circle cx="120" cy="1753"/></g><g id="n86_169"><circle cx="169" cy="1753"/></g><g id="n86_200"><circle cx="200" cy="1753"/></g><g id="n86_272"><circle cx="272" cy="1753"/></g><g id="n86_303"><circle cx="303" cy="1753"/></g><g id="n86_335"><circle cx="335" cy="1753"/></g><g id="n86_367"><circle cx="367" cy="1753"/></g>
<g id="n87_9"><circle cx="9" cy="1773"/></g><g id="n87_41"><circle cx="41" cy="1773"/></g><g id="n87_73"><circle cx="73" cy="1773"/></g><g id="n87_105"><circle cx="105" cy="1773"/></g><g id="n87_137"><circle cx="137" cy="1773"/></g><g id="n87_169"><circle cx="169" cy="1773"/></g><g id="n87_200"><circle cx="200" cy="1773"/></g><g id="n87_272"><circle cx="272" cy="1773"/></g><g id="n87_303"><circle cx="303" cy="1773"/></g><g id="n87_335"><circle cx="335" cy="1773"/></g><g id="n87_367"><circle cx="367" cy="1773"/></g><g id="n87_399"><circle cx="399" cy="1773"/></g>
<g id="n88_9"><circle cx="9" cy="1793"/></g><g id="n88_41"><circle cx="41" cy="1793"/></g><g id="n88_73"><circle cx="73" cy="1793"/></g><g id="n88_105"><circle cx="105" cy="1793"/></g><g id="n88_137"><circle cx="137" cy="1793"/></g><g id="n88_169"><circle cx="169" cy="1793"/></g><g id="n88_200"><circle cx="200" cy="1793"/></g><g id="n88_272"><circle cx="272" cy="1793"/></g><g id="n88_303"><circle cx="303" cy="1793"/></g><g id="n88_335"><circle cx="335" cy="1793"/></g><g id="n88_367"><circle cx="367" cy="1793"/></g><g id="n88_399"><circle cx="399" cy="1793"/></g>
<g id="n89_58"><circle cx="58" cy="1814"/></g><g id="n89_90"><circle cx="90" cy="1814"/></g><g id="n89_169"><circle cx="169" cy="1814"/></g><g id="n89_303"><circle cx="303" cy="1814"/></g><g id="n89_335"><circle cx="335" cy="1814"/></g><g id="n89_367"><circle cx="367" cy="1814"/></g><g id="n89_399"><circle cx="399" cy="1814"/></g>
<g id="n90_58"><circle cx="58" cy="1834"/></g><g id="n90_90"><circle cx="90" cy="1834"/></g><g id="n90_169"><circle cx="169" cy="1834"/></g><g id="n90_303"><circle cx="303" cy="1834"/></g><g id="n90_335"><circle cx="335" cy="1834"/></g><g id="n90_367"><circle cx="367" cy="1834"/></g><g id="n90_399"><circle cx="399" cy="1834"/></g>
<g id="n91_90"><circle cx="90" cy="1854"/></g><g id="n91_261"><circle cx="261" cy="1854"/></g><g id="n91_303"><circle cx="303" cy="1854"/></g><g id="n91_335"><circle cx="335" cy="1854"/></g><g id="n91_367"><circle cx="367" cy="1854"/></g>
<g id="n92_90"><circle cx="90" cy="1875"/></g><g id="n92_242"><circle cx="242" cy="1875"/></g><g id="n92_303"><circle cx="303" cy="1875"/></g><g id="n92_335"><circle cx="335" cy="1875"/></g><g id="n92_367"><circle cx="367" cy="1875"/></g>
<g id="n93_191"><circle cx="191" cy="1895"/></g><g id="n93_227"><circle cx="227" cy="1895"/></g><g id="n93_259"><circle cx="259" cy="1895"/></g><g id="n93_306"><circle cx="306" cy="1895"/></g><g id="n93_367"><circle cx="367" cy="1895"/></g>
<g id="n94_184"><circle cx="184" cy="1915"/></g><g id="n94_227"><circle cx="227" cy="1915"/></g><g id="n94_259"><circle cx="259" cy="1915"/></g><g id="n94_320"><circle cx="320" cy="1915"/></g><g id="n94_367"><circle cx="367" cy="1915"/></g>
<g id="n95_144"><circle cx="144" cy="1935"/></g><g id="n95_184"><circle cx="184" cy="1935"/></g><g id="n95_256"><circle cx="256" cy="1935"/></g><g id="n95_288"><circle cx="288" cy="1935"/></g><g id="n95_320"><circle cx="320" cy="1935"/></g><g id="n95_359"><circle cx="359" cy="1935"/></g><g id="n95_391"><circle cx="391" cy="1935"/></g>
<g id="n96_134"><circle cx="134" cy="1956"/></g><g id="n96_184"><circle cx="184" cy="1956"/></g><g id="n96_256"><circle cx="256" cy="1956"/></g><g id="n96_288"><circle cx="288" cy="1956"/></g><g id="n96_320"><circle cx="320" cy="1956"/></g><g id="n96_359"><circle cx="359" cy="1956"/></g><g id="n96_391"><circle cx="391" cy="1956"/></g>
<g id="n97_87"><circle cx="87" cy="1976"/></g><g id="n97_134"><circle cx="134" cy="1976"/></g><g id="n97_181"><circle cx="181" cy="1976"/></g><g id="n97_213"><circle cx="213" cy="1976"/></g><g id="n97_312"><circle cx="312" cy="1976"/></g><g id="n97_359"><circle cx="359" cy="1976"/></g><g id="n97_391"><circle cx="391" cy="1976"/></g>
<g id="n98_83"><circle cx="83" cy="1996"/></g><g id="n98_134"><circle cx="134" cy="1996"/></g><g id="n98_181"><circle cx="181" cy="1996"/></g><g id="n98_213"><circle cx="213" cy="1996"/></g><g id="n98_324"><circle cx="324" cy="1996"/></g><g id="n98_359"><circle cx="359" cy="1996"/></g><g id="n98_391"><circle cx="391" cy="1996"/></g>
<g id="n99_76"><circle cx="76" cy="2016"/></g><g id="n99_133"><circle cx="133" cy="2016"/></g><g id="n99_165"><circle cx="165" cy="2016"/></g><g id="n99_324"><circle cx="324" cy="2016"/></g><g id="n99_356"><circle cx="356" cy="2016"/></g>
<g id="n100_72"><circle cx="72" cy="2037"/></g><g id="n100_133"><circle cx="133" cy="2037"/></g><g id="n100_165"><circle cx="165" cy="2037"/></g><g id="n100_324"><circle cx="324" cy="2037"/></g><g id="n100_356"><circle cx="356" cy="2037"/></g>
<g id="n101_69"><circle cx="69" cy="2057"/></g><g id="n101_101"><circle cx="101" cy="2057"/></g><g id="n101_133"><circle cx="133" cy="2057"/></g><g id="n101_165"><circle cx="165" cy="2057"/></g><g id="n101_324"><circle cx="324" cy="2057"/></g><g id="n101_363"><circle cx="363" cy="2057"/></g>
<g id="n102_69"><circle cx="69" cy="2077"/></g><g id="n102_101"><circle cx="101" cy="2077"/></g><g id="n102_133"><circle cx="133" cy="2077"/></g><g id="n102_165"><circle cx="165" cy="2077"/></g><g id="n102_324"><circle cx="324" cy="2077"/></g><g id="n102_371"><circle cx="371" cy="2077"/></g>
<g id="n103_101"><circle cx="101" cy="2097"/></g><g id="n103_133"><circle cx="133" cy="2097"/></g><g id="n103_165"><circle cx="165" cy="2097"/></g><g id="n103_200"><circle cx="200" cy="2097"/></g><g id="n103_292"><circle cx="292" cy="2097"/></g><g id="n103_324"><circle cx="324" cy="2097"/></g><g id="n103_356"><circle cx="356" cy="2097"/></g><g id="n103_387"><circle cx="387" cy="2097"/></g>
<g id="n104_101"><circle cx="101" cy="2118"/></g><g id="n104_133"><circle cx="133" cy="2118"/></g><g id="n104_165"><circle cx="165" cy="2118"/></g><g id="n104_203"><circle cx="203" cy="2118"/></g><g id="n104_292"><circle cx="292" cy="2118"/></g><g id="n104_324"><circle cx="324" cy="2118"/></g><g id="n104_356"><circle cx="356" cy="2118"/></g><g id="n104_387"><circle cx="387" cy="2118"/></g>
<g id="n105_69"><circle cx="69" cy="2138"/></g><g id="n105_101"><circle cx="101" cy="2138"/></g><g id="n105_133"><circle cx="133" cy="2138"/></g><g id="n105_165"><circle cx="165" cy="2138"/></g><g id="n105_210"><circle cx="210" cy="2138"/></g><g id="n105_292"><circle cx="292" cy="2138"/></g><g id="n105_324"><circle cx="324" cy="2138"/></g>
<g id="n106_69"><circle cx="69" cy="2158"/></g><g id="n106_101"><circle cx="101" cy="2158"/></g><g id="n106_133"><circle cx="133" cy="2158"/></g><g id="n106_165"><circle cx="165" cy="2158"/></g><g id="n106_213"><circle cx="213" cy="2158"/></g><g id="n106_292"><circle cx="292" cy="2158"/></g><g id="n106_324"><circle cx="324" cy="2158"/></g>
<g id="n107_69"><circle cx="69" cy="2179"/></g><g id="n107_101"><circle cx="101" cy="2179"/></g><g id="n107_133"><circle cx="133" cy="2179"/></g><g id="n107_165"><circle cx="165" cy="2179"/></g><g id="n107_197"><circle cx="197" cy="2179"/></g><g id="n107_228"><circle cx="228" cy="2179"/></g><g id="n107_260"><circle cx="260" cy="2179"/></g><g id="n107_292"><circle cx="292" cy="2179"/></g><g id="n107_324"><circle cx="324" cy="2179"/></g>
<g id="n108_69"><circle cx="69" cy="2199"/></g><g id="n108_101"><circle cx="101" cy="2199"/></g><g id="n108_133"><circle cx="133" cy="2199"/></g><g id="n108_165"><circle cx="165" cy="2199"/></g><g id="n108_197"><circle cx="197" cy="2199"/></g><g id="n108_228"><circle cx="228" cy="2199"/></g><g id="n108_260"><circle cx="260" cy="2199"/></g><g id="n108_292"><circle cx="292" cy="2199"/></g><g id="n108_324"><circle cx="324" cy="2199"/></g>
<g id="n109_69"><circle cx="69" cy="2219"/></g><g id="n109_101"><circle cx="101" cy="2219"/></g><g id="n109_133"><circle cx="133" cy="2219"/></g><g id="n109_165"><circle cx="165" cy="2219"/></g><g id="n109_228"><circle cx="228" cy="2219"/></g><g id="n109_260"><circle cx="260" cy="2219"/></g><g id="n109_324"><circle cx="324" cy="2219"/></g>
<g id="n110_69"><circle cx="69" cy="2239"/></g><g id="n110_101"><circle cx="101" cy="2239"/></g><g id="n110_133"><circle cx="133" cy="2239"/></g><g id="n110_165"><circle cx="165" cy="2239"/></g><g id="n110_228"><circle cx="228" cy="2239"/></g><g id="n110_260"><circle cx="260" cy="2239"/></g><g id="n110_324"><circle cx="324" cy="2239"/></g>
<g id="n111_58"><circle cx="58" cy="2260"/></g><g id="n111_90"><circle cx="90" cy="2260"/></g><g id="n111_133"><circle cx="133" cy="2260"/></g><g id="n111_165"><circle cx="165" cy="2260"/></g><g id="n111_197"><circle cx="197" cy="2260"/></g><g id="n111_307"><circle cx="307" cy="2260"/></g><g id="n111_339"><circle cx="339" cy="2260"/></g>
<g id="n112_58"><circle cx="58" cy="2280"/></g><g id="n112_90"><circle cx="90" cy="2280"/></g><g id="n112_133"><circle cx="133" cy="2280"/></g><g id="n112_165"><circle cx="165" cy="2280"/></g><g id="n112_197"><circle cx="197" cy="2280"/></g><g id="n112_307"><circle cx="307" cy="2280"/></g><g id="n112_339"><circle cx="339" cy="2280"/></g>
<g id="n113_58"><circle cx="58" cy="2300"/></g><g id="n113_90"><circle cx="90" cy="2300"/></g><g id="n113_133"><circle cx="133" cy="2300"/></g><g id="n113_197"><circle cx="197" cy="2300"/></g><g id="n113_307"><circle cx="307" cy="2300"/></g><g id="n113_339"><circle cx="339" cy="2300"/></g>
<g id="n114_58"><circle cx="58" cy="2320"/></g><g id="n114_90"><circle cx="90" cy="2320"/></g><g id="n114_133"><circle cx="133" cy="2320"/></g><g id="n114_197"><circle cx="197" cy="2320"/></g><g id="n114_307"><circle cx="307" cy="2320"/></g><g id="n114_339"><circle cx="339" cy="2320"/></g>
<g id="n115_73"><circle cx="73" cy="2341"/></g><g id="n115_105"><circle cx="105" cy="2341"/></g><g id="n115_176"><circle cx="176" cy="2341"/></g><g id="n115_208"><circle cx="208" cy="2341"/></g><g id="n115_322"><circle cx="322" cy="2341"/></g><g id="n115_354"><circle cx="354" cy="2341"/></g>
<g id="n116_73"><circle cx="73" cy="2361"/></g><g id="n116_105"><circle cx="105" cy="2361"/></g><g id="n116_176"><circle cx="176" cy="2361"/></g><g id="n116_208"><circle cx="208" cy="2361"/></g><g id="n116_322"><circle cx="322" cy="2361"/></g><g id="n116_354"><circle cx="354" cy="2361"/></g>
<g id="n117_73"><circle cx="73" cy="2381"/></g><g id="n117_105"><circle cx="105" cy="2381"/></g><g id="n117_144"><circle cx="144" cy="2381"/></g><g id="n117_176"><circle cx="176" cy="2381"/></g><g id="n117_208"><circle cx="208" cy="2381"/></g><g id="n117_322"><circle cx="322" cy="2381"/></g><g id="n117_354"><circle cx="354" cy="2381"/></g>
<g id="n118_73"><circle cx="73" cy="2401"/></g><g id="n118_105"><circle cx="105" cy="2401"/></g><g id="n118_144"><circle cx="144" cy="2401"/></g><g id="n118_176"><circle cx="176" cy="2401"/></g><g id="n118_208"><circle cx="208" cy="2401"/></g><g id="n118_322"><circle cx="322" cy="2401"/></g><g id="n118_354"><circle cx="354" cy="2401"/></g>
<g id="n119_73"><circle cx="73" cy="2422"/></g><g id="n119_105"><circle cx="105" cy="2422"/></g><g id="n119_144"><circle cx="144" cy="2422"/></g><g id="n119_336"><circle cx="336" cy="2422"/></g><g id="n119_371"><circle cx="371" cy="2422"/></g>
<g id="n120_73"><circle cx="73" cy="2442"/></g><g id="n120_105"><circle cx="105" cy="2442"/></g><g id="n120_144"><circle cx="144" cy="2442"/></g><g id="n120_333"><circle cx="333" cy="2442"/></g><g id="n120_372"><circle cx="372" cy="2442"/></g>
<g id="n121_105"><circle cx="105" cy="2462"/></g><g id="n121_141"><circle cx="141" cy="2462"/></g><g id="n121_172"><circle cx="172" cy="2462"/></g><g id="n121_325"><circle cx="325" cy="2462"/></g><g id="n121_372"><circle cx="372" cy="2462"/></g><g id="n121_404"><circle cx="404" cy="2462"/></g>
<g id="n122_105"><circle cx="105" cy="2482"/></g><g id="n122_141"><circle cx="141" cy="2482"/></g><g id="n122_172"><circle cx="172" cy="2482"/></g><g id="n122_324"><circle cx="324" cy="2482"/></g><g id="n122_372"><circle cx="372" cy="2482"/></g><g id="n122_404"><circle cx="404" cy="2482"/></g>
<g id="n123_141"><circle cx="141" cy="2503"/></g><g id="n123_172"><circle cx="172" cy="2503"/></g><g id="n123_292"><circle cx="292" cy="2503"/></g><g id="n123_324"><circle cx="324" cy="2503"/></g><g id="n123_372"><circle cx="372" cy="2503"/></g><g id="n123_404"><circle cx="404" cy="2503"/></g>
<g id="n124_141"><circle cx="141" cy="2523"/></g><g id="n124_172"><circle cx="172" cy="2523"/></g><g id="n124_292"><circle cx="292" cy="2523"/></g><g id="n124_324"><circle cx="324" cy="2523"/></g><g id="n124_372"><circle cx="372" cy="2523"/></g><g id="n124_405"><circle cx="405" cy="2523"/></g>
<g id="n125_141"><circle cx="141" cy="2543"/></g><g id="n125_172"><circle cx="172" cy="2543"/></g><g id="n125_309"><circle cx="309" cy="2543"/></g><g id="n125_344"><circle cx="344" cy="2543"/></g><g id="n125_376"><circle cx="376" cy="2543"/></g><g id="n125_407"><circle cx="407" cy="2543"/></g>
<g id="n126_141"><circle cx="141" cy="2564"/></g><g id="n126_172"><circle cx="172" cy="2564"/></g><g id="n126_304"><circle cx="304" cy="2564"/></g><g id="n126_344"><circle cx="344" cy="2564"/></g><g id="n126_376"><circle cx="376" cy="2564"/></g><g id="n126_407"><circle cx="407" cy="2564"/></g>
<g id="n127_109"><circle cx="109" cy="2584"/></g><g id="n127_141"><circle cx="141" cy="2584"/></g><g id="n127_172"><circle cx="172" cy="2584"/></g><g id="n127_304"><circle cx="304" cy="2584"/></g><g id="n127_344"><circle cx="344" cy="2584"/></g><g id="n127_376"><circle cx="376" cy="2584"/></g><g id="n127_407"><circle cx="407" cy="2584"/></g>
<g id="n128_109"><circle cx="109" cy="2604"/></g><g id="n128_141"><circle cx="141" cy="2604"/></g><g id="n128_172"><circle cx="172" cy="2604"/></g><g id="n128_289"><circle cx="289" cy="2604"/></g><g id="n128_344"><circle cx="344" cy="2604"/></g><g id="n128_376"><circle cx="376" cy="2604"/></g><g id="n128_407"><circle cx="407" cy="2604"/></g>
<g id="n129_109"><circle cx="109" cy="2624"/></g><g id="n129_141"><circle cx="141" cy="2624"/></g><g id="n129_288"><circle cx="288" cy="2624"/></g><g id="n129_344"><circle cx="344" cy="2624"/></g><g id="n129_376"><circle cx="376" cy="2624"/></g>
<g id="n130_109"><circle cx="109" cy="2645"/></g><g id="n130_141"><circle cx="141" cy="2645"/></g><g id="n130_284"><circle cx="284" cy="2645"/></g><g id="n130_344"><circle cx="344" cy="2645"/></g><g id="n130_376"><circle cx="376" cy="2645"/></g>
<g id="n131_284"><circle cx="284" cy="2665"/></g><g id="n131_344"><circle cx="344" cy="2665"/></g><g id="n131_376"><circle cx="376" cy="2665"/></g>
<g id="n132_282"><circle cx="282" cy="2685"/></g><g id="n132_344"><circle cx="344" cy="2685"/></g><g id="n132_376"><circle cx="376" cy="2685"/></g>
<g id="n133_281"><circle cx="281" cy="2705"/></g><g id="n133_344"><circle cx="344" cy="2705"/></g><g id="n133_391"><circle cx="391" cy="2705"/></g>
<g id="n134_281"><circle cx="281" cy="2726"/></g><g id="n134_344"><circle cx="344" cy="2726"/></g><g id="n134_399"><circle cx="399" cy="2726"/></g>
<g id="n135_281"><circle cx="281" cy="2746"/></g><g id="n135_344"><circle cx="344" cy="2746"/></g><g id="n135_399"><circle cx="399" cy="2746"/></g><g id="n135_433"><circle cx="433" cy="2746"/></g>
<g id="n136_281"><circle cx="281" cy="2766"/></g><g id="n136_344"><circle cx="344" cy="2766"/></g><g id="n136_399"><circle cx="399" cy="2766"/></g><g id="n136_434"><circle cx="434" cy="2766"/></g>
<g id="n137_249"><circle cx="249" cy="2786"/></g><g id="n137_281"><circle cx="281" cy="2786"/></g><g id="n137_312"><circle cx="312" cy="2786"/></g><g id="n137_344"><circle cx="344" cy="2786"/></g><g id="n137_376"><circle cx="376" cy="2786"/></g><g id="n137_407"><circle cx="407" cy="2786"/></g><g id="n137_439"><circle cx="439" cy="2786"/></g>
<g id="n138_249"><circle cx="249" cy="2807"/></g><g id="n138_281"><circle cx="281" cy="2807"/></g><g id="n138_312"><circle cx="312" cy="2807"/></g><g id="n138_344"><circle cx="344" cy="2807"/></g><g id="n138_376"><circle cx="376" cy="2807"/></g><g id="n138_407"><circle cx="407" cy="2807"/></g><g id="n138_439"><circle cx="439" cy="2807"/></g>
<g id="n139_217"><circle cx="217" cy="2827"/></g><g id="n139_249"><circle cx="249" cy="2827"/></g><g id="n139_281"><circle cx="281" cy="2827"/></g><g id="n139_312"><circle cx="312" cy="2827"/></g><g id="n139_407"><circle cx="407" cy="2827"/></g>
<g id="n140_217"><circle cx="217" cy="2847"/></g><g id="n140_249"><circle cx="249" cy="2847"/></g><g id="n140_281"><circle cx="281" cy="2847"/></g><g id="n140_312"><circle cx="312" cy="2847"/></g><g id="n140_407"><circle cx="407" cy="2847"/></g>
<g id="n141_217"><circle cx="217" cy="2868"/></g><g id="n141_281"><circle cx="281" cy="2868"/></g>
<g id="n142_217"><circle cx="217" cy="2888"/></g><g id="n142_281"><circle cx="281" cy="2888"/></g>
<g id="n143_281"><circle cx="281" cy="2908"/></g>
<g id="n144_281"><circle cx="281" cy="2928"/></g>
</g>
</svg>
